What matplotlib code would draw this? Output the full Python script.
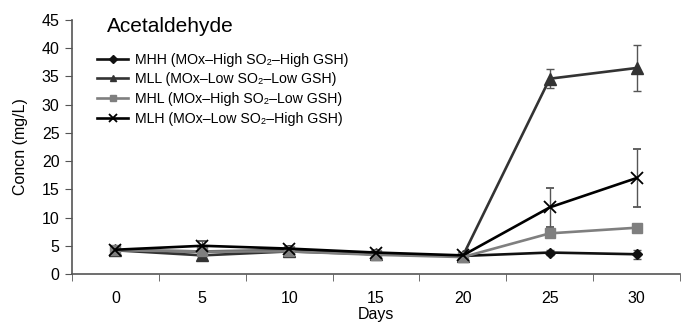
import matplotlib
matplotlib.use("Agg")
import matplotlib.pyplot as plt
from matplotlib.lines import Line2D
import numpy as np

plt.rcParams['font.family'] = ['Liberation Sans', 'DejaVu Sans']

days = ['0', '5', '10', '15', '20', '25', '30']
mhh = [4.2, 4.0, 4.2, 3.5, 3.2, 3.8, 3.5]
mhh_err = [0.3, 0.3, 0.3, 0.3, 0.3, 0.5, 0.8]
mll = [4.2, 3.3, 4.0, 3.5, 3.2, 34.6, 36.5]
mll_err = [0.3, 0.8, 0.3, 0.3, 0.3, 1.7, 4.0]
mhl = [4.2, 4.0, 4.0, 3.4, 3.0, 7.2, 8.2]
mhl_err = [0.3, 0.3, 0.3, 0.3, 0.3, 0.6, 0.6]
mlh = [4.3, 5.0, 4.5, 3.8, 3.3, 11.8, 17.0]
mlh_err = [0.3, 0.8, 0.4, 0.4, 0.3, 3.5, 5.2]

labels = ['MHH (MOx–High SO₂–High GSH)', 'MLL (MOx–Low SO₂–Low GSH)',
          'MHL (MOx–High SO₂–Low GSH)', 'MLH (MOx–Low SO₂–High GSH)']

fig = plt.figure(figsize=(6.86, 3.24), dpi=100)
ax = fig.add_axes([72/686, 50/324, 608/686, 254/324])
x = np.arange(len(days))

series = [
    (mhh, mhh_err, '#111111', 'D', 5, labels[0]),
    (mll, mll_err, '#333333', '^', 8, labels[1]),
    (mhl, mhl_err, '#7f7f7f', 's', 7, labels[2]),
    (mlh, mlh_err, '#000000', 'x', 9, labels[3]),
]
handles = []
for vals, err, col, mk, ms, lab in series:
    mew = 1.3 if mk == 'x' else 1
    ax.errorbar(x, vals, yerr=err, color=col, marker=mk, markersize=ms,
                linewidth=1.9, ecolor='#555555', elinewidth=1, capsize=3,
                capthick=1, markeredgewidth=mew)
    handles.append(Line2D([], [], color=col, marker=mk, markersize=4 if mk != 'x' else 6,
                          linewidth=1.9, markeredgewidth=mew, label=lab))

ax.set_xlim(-0.5, 6.5)
ax.set_ylim(0, 45)
ax.set_yticks(np.arange(0, 46, 5))
ax.set_xticks(x)
ax.set_xticklabels(days)
ax.set_xticks(np.arange(-0.5, 7, 1), minor=True)
ax.tick_params(axis='x', which='major', length=0, pad=12, labelsize=11.5)
ax.tick_params(axis='x', which='minor', length=5, direction='out', color='#555555')
ax.tick_params(axis='y', length=5, direction='out', labelsize=11.5, color='#555555', pad=4)
for s in ['top', 'right']:
    ax.spines[s].set_visible(False)
for s in ['left', 'bottom']:
    ax.spines[s].set_color('#555555')
    ax.spines[s].set_linewidth(1.2)

ax.set_xlabel('Days', fontsize=11.5, labelpad=1)
ax.set_ylabel('Concn (mg/L)', fontsize=11.5, labelpad=10)
ax.text(0.058, 1.012, 'Acetaldehyde', transform=ax.transAxes, fontsize=15,
        va='top', ha='left')

leg = ax.legend(handles=handles, loc='upper left', bbox_to_anchor=(0.025, 0.91),
                frameon=False, fontsize=10.2, handlelength=2.2, labelspacing=0.4,
                handletextpad=0.5, borderpad=0.2)

fig.savefig('out.png', dpi=100)
